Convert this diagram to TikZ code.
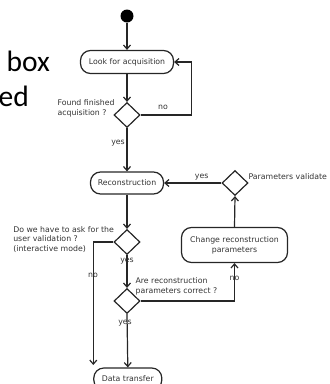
\documentclass[tikz,border=0pt]{standalone}
\usepackage{fontspec}
\setmainfont{DejaVu Sans}
\newfontfamily\bigfont{Carlito}
\usetikzlibrary{shapes.geometric,arrows.meta}
\begin{document}
\begin{tikzpicture}[x=1pt,y=-1pt,
  line width=1.2pt, draw=black!85, text=black!80,
  every node/.style={font=\fontsize{7.8}{9.8}\selectfont},
  act/.style={draw, rounded corners=10pt, inner sep=0pt, line width=1.2pt},
  dec/.style={draw, diamond, minimum width=26pt, minimum height=25pt, inner sep=0pt, line width=1.2pt},
  arr/.style={-{Straight Barb[length=4pt,width=7pt]}},
  lbl/.style={inner sep=0pt}
]
\useasboundingbox (0,0) rectangle (330,384);
% large slide text
\node[anchor=base west, inner sep=0pt, font=\bigfont\fontsize{29.5}{29.5}\selectfont, text=black] (tbox) at (6,71) {box};
\node[anchor=base west, inner sep=0pt, font=\bigfont\fontsize{29.5}{29.5}\selectfont, text=black] (ted) at (-2,106) {ed};

% nodes
\node[circle, fill=black, minimum size=13pt, inner sep=0pt] (start) at (127,16) {};
\node[act, minimum width=93pt, minimum height=23pt] (look) at (127,62) {Look for acquisition};
\node[dec] (d1) at (127,115) {};
\node[act, minimum width=73pt, minimum height=22pt] (rec) at (127,183) {Reconstruction};
\node[dec] (d2) at (235,183) {};
\node[dec] (d3) at (127,242) {};
\node[act, minimum width=106pt, minimum height=35pt, align=center] (change) at (234.5,245) {Change reconstruction\\parameters};
\node[dec] (d4) at (127,301) {};
\node[act, minimum width=68pt, minimum height=22pt] (data) at (127.8,379) {Data transfer};

\coordinate (noend) at (93.3,365);

% connectors
\draw[arr] (start) -- (look);
\draw[arr] (look) -- (d1);
\draw[arr] (d1.east) -- (191.7,115) -- (191.7,62) -- (look.east);
\draw[arr] (d1.south) -- (rec.north);
\draw[arr] (d2.west) -- (rec.east);
\draw[arr] (rec) -- (d3);
\draw[arr] (d3.west) -- (noend |- d3.west) -- (noend);
\draw[arr] (d3.south) -- (d4.north);
\draw[arr] (d4.east) -- (change.south |- d4.east) -- (change.south);
\draw[arr] (change.north) -- (d2.south);
\draw[arr] (d4.south) -- (data.north);

% labels
\node[lbl, anchor=west, align=left] (l1) at (57,108) {Found finished\\acquisition ?};
\node[lbl] (no1) at (163,107.5) {no};
\node[lbl] (yes1) at (118,143) {yes};
\node[lbl] (yes2) at (201.7,177) {yes};
\node[lbl, anchor=west] (pv) at (248,177) {Parameters validate};
\node[lbl, anchor=west, align=left] (l3) at (12.7,239.5) {Do we have to ask for the\\user validation ?\\(interactive mode)};
\node[lbl] (yes3) at (127,261) {yes};
\node[lbl] (no3) at (93,275) {no};
\node[lbl, anchor=west, align=left] (l4) at (135,286.5) {Are reconstruction\\parameters correct ?};
\node[lbl] (no4) at (234.5,278) {no};
\node[lbl] (yes4) at (125,323) {yes};
\end{tikzpicture}
\end{document}
